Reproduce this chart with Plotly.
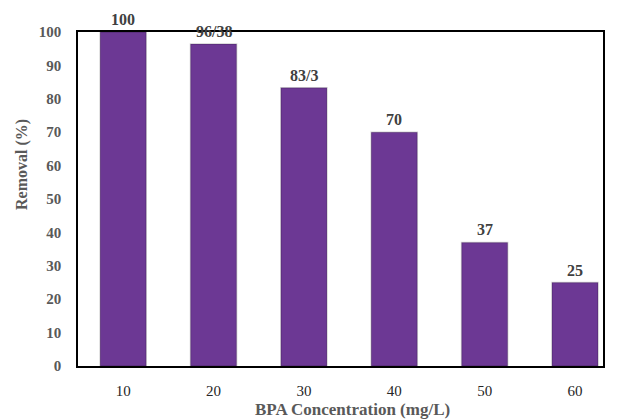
import plotly.graph_objects as go

categories = ["10", "20", "30", "40", "50", "60"]
removal = [100, 96.38, 83.3, 70, 37, 25]
labels = ["100", "96/38", "83/3", "70", "37", "25"]
y_ticks = [0, 10, 20, 30, 40, 50, 60, 70, 80, 90, 100]

serif = "Liberation Serif, Times New Roman, serif"

# page has an 8px body margin; figure occupies (8,8)-(624,419)
OFF = 8
W, H = 624 - OFF, 419 - OFF
ml, mr, mt, mb = 78 - OFF, 21, 32 - OFF, 53
pw, ph = W - ml - mr, H - mt - mb
px0, py_bottom = 78, 419 - mb  # plot area left / bottom in window pixels

xs = list(range(len(categories)))

fig = go.Figure()
fig.add_trace(go.Bar(
    x=xs,
    y=removal,
    width=0.51,
    marker=dict(color="#6C3894", line=dict(color="rgba(0,0,0,0.18)", width=1.5)),
    cliponaxis=False,
))

annotations = [
    dict(x=x, y=v, xref="x", yref="y", text=t, showarrow=False,
         xanchor="center", yanchor="bottom", yshift=2,
         font=dict(family=serif, size=16, color="#404040", weight="bold"))
    for x, v, t in zip(xs, removal, labels)
]
annotations += [
    dict(text="BPA Concentration (mg/L)", xref="paper", yref="paper",
         x=(352 - px0) / pw, y=(py_bottom - 409) / ph, showarrow=False,
         xanchor="center", yanchor="middle",
         font=dict(family=serif, size=17, color="#595959", weight="bold")),
    dict(text="Removal (%)", xref="paper", yref="paper",
         x=(22 - px0) / pw, y=(py_bottom - 164) / ph, showarrow=False, textangle=-90,
         xanchor="center", yanchor="middle",
         font=dict(family=serif, size=16, color="#595959", weight="bold")),
]

fig.update_layout(
    width=W, height=H,
    margin=dict(l=ml, r=mr, t=mt, b=mb),
    plot_bgcolor="white", paper_bgcolor="white",
    showlegend=False,
    xaxis=dict(
        range=[-0.5, 5.31], automargin=False,
        tickvals=xs,
        ticktext=categories,
        showgrid=False, zeroline=False,
        showline=True, mirror=True, linecolor="black", linewidth=1.5,
        ticks="", ticklabelstandoff=10,
        tickfont=dict(family=serif, size=15, color="#262626"),
    ),
    yaxis=dict(
        range=[0, 100], automargin=False,
        tickvals=y_ticks,
        showgrid=False, zeroline=False,
        showline=True, mirror=True, linecolor="black", linewidth=1.5,
        ticks="", ticklabelstandoff=12,
        tickfont=dict(family=serif, size=15, color="#595959", weight="bold"),
    ),
    annotations=annotations,
)

fig.write_html("out.html")
